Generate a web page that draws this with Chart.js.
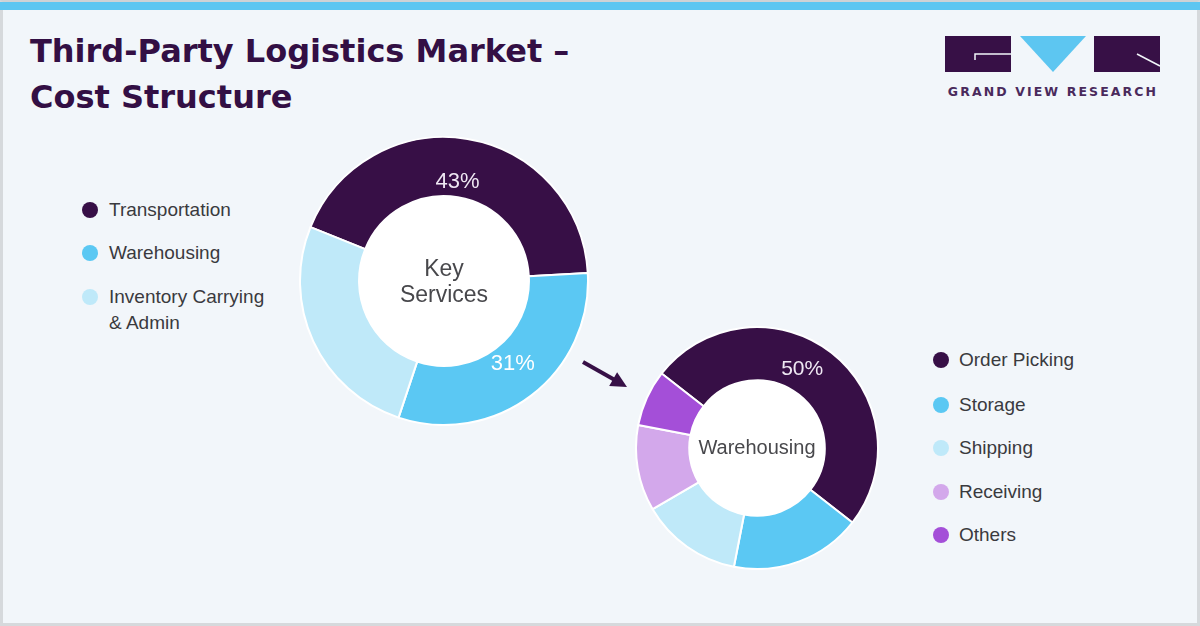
<!DOCTYPE html>
<html><head><meta charset="utf-8">
<script src="https://cdn.jsdelivr.net/npm/chart.js@4.4.1/dist/chart.umd.min.js"></script>
<style>
html,body{margin:0;padding:0;}
body{width:1200px;height:626px;overflow:hidden;background:#f2f6fa;font-family:"Liberation Sans",Arial,sans-serif;position:relative;}
#frame{position:absolute;left:0;top:0;width:1200px;height:626px;box-sizing:border-box;border:3px solid #d6d9dc;border-top:2px solid #cfd2d5;}
#bar{position:absolute;left:0;top:2px;width:1200px;height:8px;background:#5dc6f1;}
#title{position:absolute;left:30px;top:28px;font-family:"DejaVu Sans",sans-serif;font-weight:bold;font-size:32px;line-height:46px;color:#330f44;white-space:nowrap;letter-spacing:0px;}
.chartbox{position:absolute;}
.leg{position:absolute;font-size:19px;color:#3a3a3e;line-height:26px;}
.leg .dot{position:absolute;width:16px;height:16px;border-radius:50%;}
.leg .txt{position:absolute;white-space:normal;}
</style>
</head><body>
<div id="frame"></div>
<div id="bar"></div>
<div id="title">Third-Party Logistics Market –<br>Cost Structure</div>
<svg id="logo" width="1200" height="626" style="position:absolute;left:0;top:0;pointer-events:none">
  <rect x="945" y="36" width="66" height="36" fill="#371046"/>
  <path d="M975 60 V54 H1011" stroke="#f2f6fa" stroke-width="1.5" fill="none"/>
  <polygon points="1020,36 1086,36 1053,72" fill="#5dc6f1"/>
  <rect x="1094" y="36" width="66" height="36" fill="#371046"/>
  <path d="M1137 54 L1160 66" stroke="#f2f6fa" stroke-width="1.5" fill="none"/>
  <text x="1053" y="96" text-anchor="middle" font-family="DejaVu Sans" font-weight="bold" font-size="12.5" letter-spacing="2.1" fill="#4a2a5c">GRAND VIEW RESEARCH</text>
  <line x1="583" y1="362" x2="614" y2="379.5" stroke="#371046" stroke-width="4"/>
  <polygon points="627,387 609.2,386.1 617.1,372.2" fill="#371046"/>
</svg>
<div class="chartbox" style="left:299px;top:136px;width:290px;height:290px"><canvas id="c1" width="290" height="290"></canvas></div>
<div class="chartbox" style="left:635px;top:326px;width:244px;height:244px"><canvas id="c2" width="244" height="244"></canvas></div>
<div id="leg1"></div>
<div id="leg2"></div>
<script>
// ---- data ----
const keyServiceLabels = ["Transportation", "Warehousing", "Inventory Carrying & Admin"];
const keyServiceValues = [43, 31, 26];
const keyServiceShown = [0, 1];           // segments whose % is printed
const warehousingLabels = ["Order Picking", "Storage", "Shipping", "Receiving", "Others"];
const warehousingValues = [50, 17.5, 13.5, 11.5, 7.5];
const warehousingShown = [0];

// ---- styles ----
const keyColors = ["#370f46", "#5bc8f3", "#bfe9f9"];
const whColors = ["#370f46", "#5bc8f3", "#bfe9f9", "#d3a8eb", "#a44fd8"];

const ringPlugin = {
  id: 'ring',
  beforeDatasetsDraw(chart) {
    const arc = chart.getDatasetMeta(0).data[0];
    if (!arc) return;
    const ctx = chart.ctx;
    ctx.save();
    ctx.fillStyle = '#ffffff';
    ctx.beginPath();
    ctx.arc(arc.x, arc.y, arc.innerRadius + 1, 0, Math.PI * 2);
    ctx.fill();
    ctx.restore();
  },
  afterDatasetsDraw(chart, args, opts) {
    const meta = chart.getDatasetMeta(0);
    const ctx = chart.ctx;
    const values = chart.data.datasets[0].data;
    ctx.save();
    ctx.textAlign = 'center';
    ctx.textBaseline = 'middle';
    (opts.pct || []).forEach(p => {
      const a = meta.data[p.index];
      const ang = a.startAngle + (a.endAngle - a.startAngle) * p.af;
      const r = a.innerRadius + (a.outerRadius - a.innerRadius) * p.rf;
      ctx.font = opts.pctFont;
      ctx.fillStyle = p.color;
      ctx.fillText(values[p.index] + '%', a.x + r * Math.cos(ang), a.y + r * Math.sin(ang));
    });
    const a0 = meta.data[0];
    ctx.font = opts.centerFont;
    ctx.fillStyle = '#48484c';
    const lines = opts.center;
    const lh = opts.centerLH;
    lines.forEach((t, i) => {
      ctx.fillText(t, a0.x, a0.y + opts.centerDy + (i - (lines.length - 1) / 2) * lh);
    });
    ctx.restore();
  }
};

function makeChart(id, labels, values, colors, rotation, cutout, pluginOpts) {
  return new Chart(document.getElementById(id), {
    type: 'doughnut',
    data: { labels: labels, datasets: [{ data: values, backgroundColor: colors, borderColor: '#ffffff', borderWidth: 2, hoverOffset: 0 }] },
    options: {
      responsive: false, animation: false, rotation: rotation, cutout: cutout,
      layout: { padding: 0 },
      plugins: { legend: { display: false }, tooltip: { enabled: false }, ring: pluginOpts },
      events: []
    },
    plugins: [ringPlugin]
  });
}

makeChart('c1', keyServiceLabels, keyServiceValues, keyColors, -68, '59%', {
  pct: [{ index: keyServiceShown[0], af: 0.49, rf: 0.25, color: '#efe8f3' }, { index: keyServiceShown[1], af: 0.48, rf: 0.39, color: '#ffffff' }],
  pctFont: '22px "Liberation Sans", Arial, sans-serif',
  center: ['Key', 'Services'], centerFont: '23px "Liberation Sans", Arial, sans-serif', centerLH: 26, centerDy: 2
});
makeChart('c2', warehousingLabels, warehousingValues, whColors, -52, '56%', {
  pct: [{ index: warehousingShown[0], af: 0.455, rf: 0.43, color: '#efe8f3' }],
  pctFont: '21px "Liberation Sans", Arial, sans-serif',
  center: ['Warehousing'], centerFont: '20px "Liberation Sans", Arial, sans-serif', centerLH: 24, centerDy: 0
});

function buildLegend(el, labels, colors, dotX, textX, ys, width) {
  const box = document.getElementById(el);
  labels.forEach((l, i) => {
    const d = document.createElement('div');
    d.className = 'leg';
    d.style.left = '0px'; d.style.top = (ys[i] - 13) + 'px';
    const dot = document.createElement('div');
    dot.className = 'dot';
    dot.style.background = colors[i];
    dot.style.left = (dotX - 8) + 'px'; dot.style.top = '5px';
    const t = document.createElement('div');
    t.className = 'txt';
    t.style.left = textX + 'px'; t.style.top = '0px'; t.style.width = width + 'px';
    t.textContent = l;
    d.appendChild(dot); d.appendChild(t);
    box.appendChild(d);
  });
}
buildLegend('leg1', keyServiceLabels, keyColors, 90, 109, [210, 253, 297], 172);
buildLegend('leg2', warehousingLabels, whColors, 941, 959, [360, 405, 448, 492, 535], 200);
</script>
</body></html>
